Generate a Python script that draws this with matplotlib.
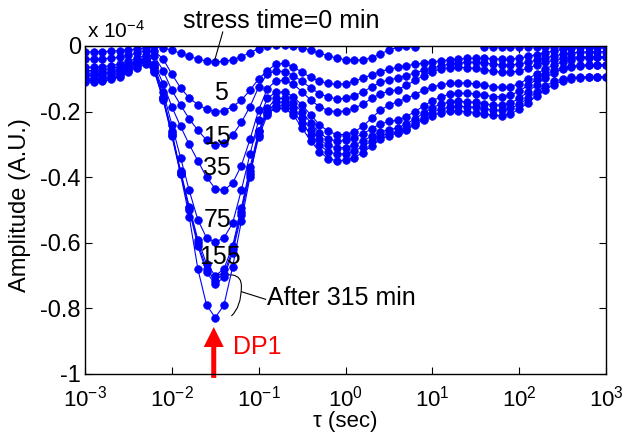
import matplotlib
matplotlib.use('Agg')
import matplotlib.pyplot as plt
from matplotlib.patches import FancyArrowPatch, PathPatch
from matplotlib.path import Path
from matplotlib.ticker import NullLocator
import numpy as np

plt.rcParams['font.family'] = ['Liberation Sans', 'DejaVu Sans']
plt.rcParams['mathtext.fontset'] = 'custom'
plt.rcParams['mathtext.rm'] = 'Liberation Sans'
plt.rcParams['mathtext.it'] = 'Liberation Sans:italic'
plt.rcParams['mathtext.default'] = 'regular'
plt.rcParams['axes.unicode_minus'] = False

# log10 of emission time constant tau (sec)
log_tau = [-3.0, -2.9, -2.8, -2.7, -2.6, -2.5, -2.4, -2.3, -2.2, -2.1,
           -2.0, -1.9, -1.8, -1.7, -1.6, -1.5, -1.4, -1.3, -1.2, -1.1,
           -1.0, -0.9, -0.8, -0.7, -0.6, -0.5, -0.4, -0.3, -0.2, -0.1,
           0.0, 0.1, 0.2, 0.3, 0.4, 0.5, 0.6, 0.7, 0.8, 0.9,
           1.0, 1.1, 1.2, 1.3, 1.4, 1.5, 1.6, 1.7, 1.8, 1.9,
           2.0, 2.1, 2.2, 2.3, 2.4, 2.5, 2.6, 2.7, 2.8, 2.9,
           3.0]

# Amplitude (x 1e-4 A.U.) for each stress time
amp_0 = [-0.018, -0.018, -0.017, -0.016, -0.014, -0.012, -0.009, -0.005, -0.001, -0.005,
         -0.013, -0.022, -0.031, -0.040, -0.046, -0.048, -0.047, -0.042, -0.033, -0.020,
         -0.008, 0.000, 0.002, 0.002, 0.000, -0.005, -0.013, -0.022, -0.030, -0.037,
         -0.042, -0.043, -0.042, -0.036, -0.025, -0.012, -0.004, -0.001, -0.002, 0.012,
         0.020, 0.025, 0.025, 0.022, 0.018, 0.012, -0.002, -0.002, -0.002, -0.002,
         -0.002, -0.002, -0.002, -0.002, -0.002, -0.002, -0.002, -0.002, -0.002, -0.002,
         -0.002]
amp_5 = [-0.040, -0.040, -0.039, -0.037, -0.034, -0.028, -0.021, -0.014, -0.015, -0.040,
         -0.085, -0.128, -0.158, -0.179, -0.193, -0.200, -0.197, -0.185, -0.165, -0.135,
         -0.100, -0.075, -0.055, -0.053, -0.064, -0.080, -0.096, -0.107, -0.114, -0.117,
         -0.115, -0.108, -0.098, -0.088, -0.078, -0.071, -0.065, -0.060, -0.056, -0.052,
         -0.048, -0.045, -0.042, -0.040, -0.038, -0.037, -0.037, -0.039, -0.040, -0.040,
         -0.037, -0.032, -0.026, -0.020, -0.015, -0.010, -0.006, -0.004, -0.003, -0.003,
         -0.003]
amp_15 = [-0.065, -0.065, -0.063, -0.060, -0.055, -0.047, -0.037, -0.028, -0.032, -0.075,
          -0.135, -0.180, -0.222, -0.257, -0.287, -0.303, -0.296, -0.272, -0.233, -0.185,
          -0.125, -0.085, -0.076, -0.078, -0.090, -0.108, -0.128, -0.145, -0.156, -0.161,
          -0.160, -0.152, -0.140, -0.125, -0.111, -0.103, -0.098, -0.090, -0.082, -0.074,
          -0.067, -0.060, -0.055, -0.052, -0.050, -0.050, -0.052, -0.055, -0.058, -0.058,
          -0.055, -0.050, -0.043, -0.036, -0.030, -0.025, -0.021, -0.019, -0.018, -0.017,
          -0.017]
amp_35 = [-0.075, -0.075, -0.073, -0.069, -0.063, -0.055, -0.045, -0.037, -0.055, -0.115,
          -0.185, -0.245, -0.300, -0.350, -0.400, -0.435, -0.440, -0.418, -0.365, -0.285,
          -0.195, -0.130, -0.106, -0.104, -0.116, -0.140, -0.165, -0.185, -0.197, -0.200,
          -0.198, -0.190, -0.177, -0.160, -0.146, -0.138, -0.133, -0.120, -0.105, -0.090,
          -0.078, -0.070, -0.066, -0.065, -0.066, -0.068, -0.072, -0.077, -0.080, -0.080,
          -0.076, -0.068, -0.058, -0.050, -0.043, -0.038, -0.035, -0.034, -0.033, -0.033,
          -0.033]
amp_75 = [-0.085, -0.085, -0.083, -0.078, -0.070, -0.060, -0.048, -0.040, -0.060, -0.140,
          -0.240, -0.340, -0.440, -0.530, -0.585, -0.598, -0.585, -0.540, -0.440, -0.330,
          -0.225, -0.160, -0.140, -0.140, -0.155, -0.180, -0.210, -0.240, -0.260, -0.270,
          -0.270, -0.262, -0.245, -0.220, -0.196, -0.180, -0.170, -0.160, -0.148, -0.135,
          -0.125, -0.118, -0.114, -0.112, -0.113, -0.116, -0.120, -0.124, -0.126, -0.124,
          -0.115, -0.100, -0.085, -0.070, -0.058, -0.048, -0.042, -0.038, -0.036, -0.035,
          -0.034]
amp_155 = [-0.090, -0.090, -0.088, -0.083, -0.075, -0.063, -0.050, -0.042, -0.065, -0.155,
           -0.265, -0.380, -0.490, -0.590, -0.665, -0.700, -0.680, -0.610, -0.495, -0.370,
           -0.260, -0.190, -0.160, -0.160, -0.175, -0.200, -0.235, -0.265, -0.283, -0.290,
           -0.288, -0.280, -0.268, -0.252, -0.238, -0.230, -0.226, -0.215, -0.200, -0.183,
           -0.167, -0.155, -0.147, -0.144, -0.144, -0.146, -0.150, -0.154, -0.155, -0.150,
           -0.138, -0.120, -0.102, -0.086, -0.074, -0.066, -0.061, -0.059, -0.058, -0.058,
           -0.058]
amp_after_a = [-0.100, -0.100, -0.098, -0.092, -0.083, -0.070, -0.056, -0.046, -0.070, -0.160,
               -0.270, -0.385, -0.495, -0.600, -0.680, -0.715, -0.695, -0.620, -0.505, -0.380,
               -0.270, -0.200, -0.172, -0.170, -0.190, -0.220, -0.255, -0.285, -0.303, -0.311,
               -0.310, -0.302, -0.290, -0.275, -0.262, -0.255, -0.250, -0.238, -0.222, -0.205,
               -0.188, -0.177, -0.171, -0.169, -0.170, -0.172, -0.176, -0.180, -0.180, -0.174,
               -0.160, -0.140, -0.118, -0.098, -0.082, -0.071, -0.064, -0.060, -0.059, -0.058,
               -0.058]
amp_after_b = [-0.105, -0.105, -0.103, -0.097, -0.088, -0.075, -0.060, -0.050, -0.075, -0.165,
               -0.275, -0.390, -0.500, -0.610, -0.690, -0.726, -0.705, -0.630, -0.515, -0.390,
               -0.278, -0.210, -0.182, -0.180, -0.200, -0.235, -0.270, -0.302, -0.322, -0.330,
               -0.328, -0.320, -0.307, -0.290, -0.275, -0.266, -0.262, -0.252, -0.236, -0.219,
               -0.203, -0.192, -0.186, -0.184, -0.185, -0.187, -0.191, -0.195, -0.196, -0.190,
               -0.178, -0.160, -0.140, -0.122, -0.108, -0.100, -0.096, -0.095, -0.094, -0.094,
               -0.094]
amp_315 = [-0.110, -0.110, -0.108, -0.102, -0.093, -0.080, -0.066, -0.056, -0.080, -0.160,
           -0.260, -0.390, -0.520, -0.680, -0.790, -0.828, -0.790, -0.674, -0.535, -0.400,
           -0.260, -0.205, -0.190, -0.190, -0.210, -0.250, -0.290, -0.322, -0.343, -0.350,
           -0.348, -0.340, -0.325, -0.305, -0.285, -0.273, -0.266, -0.256, -0.240, -0.225,
           -0.212, -0.203, -0.199, -0.198, -0.200, -0.203, -0.207, -0.211, -0.212, -0.207,
           -0.193, -0.173, -0.152, -0.133, -0.118, -0.107, -0.100, -0.097, -0.095, -0.094,
           -0.094]

series = [amp_0, amp_5, amp_15, amp_35, amp_75, amp_155, amp_after_a, amp_after_b, amp_315]

x_ticks = [1e-3, 1e-2, 1e-1, 1e0, 1e1, 1e2, 1e3]
x_tick_labels = ['$10^{-3}$', '$10^{-2}$', '$10^{-1}$', '$10^{0}$', '$10^{1}$', '$10^{2}$', '$10^{3}$']
y_ticks = [0, -0.2, -0.4, -0.6, -0.8, -1]
y_tick_labels = ['0', '-0.2', '-0.4', '-0.6', '-0.8', '-1']

# curve labels: (text, tau, amplitude)
curve_labels = [('5', 0.0372, -0.144), ('15', 0.0327, -0.277), ('35', 0.0327, -0.373),
                ('75', 0.0340, -0.531), ('155', 0.0356, -0.643)]

tau = 10.0 ** np.array(log_tau)

fig = plt.figure(figsize=(6.32, 4.32), dpi=100)
ax = fig.add_axes([85 / 632, 58 / 432, 521 / 632, 328 / 432])

for s in series:
    ax.plot(tau, s, '-o', color='#0000ff', lw=0.8, ms=5.6, mew=0.4,
            mfc='#0000ff', mec='#0000ff')

ax.set_xscale('log')
ax.set_xlim(1e-3, 1e3)
ax.set_ylim(-1, 0)
ax.set_xticks(x_ticks)
ax.set_xticklabels(x_tick_labels)
ax.xaxis.set_minor_locator(NullLocator())
ax.set_yticks(y_ticks)
ax.set_yticklabels(y_tick_labels)
ax.tick_params(direction='in', top=True, right=True, length=5, width=0.8)
ax.tick_params(axis='y', labelsize=17, pad=3)
ax.tick_params(axis='x', labelsize=16, pad=8)
for sp in ax.spines.values():
    sp.set_linewidth(1.0)

fig.text(20 / 632, 1 - 205 / 432, 'Amplitude (A.U.)', rotation=90,
         ha='center', va='center', fontsize=17)
fig.text(345 / 632, 1 - 421 / 432, 'τ (sec)', ha='center', va='center', fontsize=16)

ax.text(0.004, 1.024, 'x 10$^{-4}$', transform=ax.transAxes, ha='left',
        va='baseline', fontsize=15)

for txt, tx, ty in curve_labels:
    ax.text(tx, ty, txt, ha='center', va='center', fontsize=18)

ax.text(0.3774, 1.076, 'stress time=0 min', transform=ax.transAxes,
        ha='center', va='center', fontsize=18)
ax.plot([0.2644, 0.249], [1.0427, 0.957], transform=ax.transAxes,
        color='k', lw=0.8, clip_on=False)

# bracket for "After 315 min"
verts = [(0.2458, 0.3049), (0.2835, 0.3018),
         (0.301, 0.297), (0.3002, 0.2662),
         (0.300, 0.205), (0.2810, 0.1768)]
codes = [Path.MOVETO, Path.LINETO, Path.CURVE3, Path.CURVE3, Path.CURVE3, Path.CURVE3]
ax.add_patch(PathPatch(Path(verts, codes), transform=ax.transAxes, fill=False,
                       lw=0.8, color='k', clip_on=False))
ax.plot([0.3002, 0.3467], [0.2509, 0.2277], transform=ax.transAxes,
        color='k', lw=0.8, clip_on=False)
ax.text(0.3487, 0.2317, 'After 315 min', transform=ax.transAxes,
        ha='left', va='center', fontsize=18)

arrow = FancyArrowPatch((0.2471, -0.012), (0.2471, 0.1433), transform=ax.transAxes,
                        arrowstyle='simple,head_length=14.4,head_width=14.4,tail_width=3.6',
                        mutation_scale=1, color='#ff0000', lw=0, shrinkA=0, shrinkB=0,
                        clip_on=False)
ax.add_patch(arrow)
ax.text(0.2835, 0.0823, 'DP1', transform=ax.transAxes, color='#ff0000',
        ha='left', va='center', fontsize=18)

fig.savefig('out.png', dpi=100)
